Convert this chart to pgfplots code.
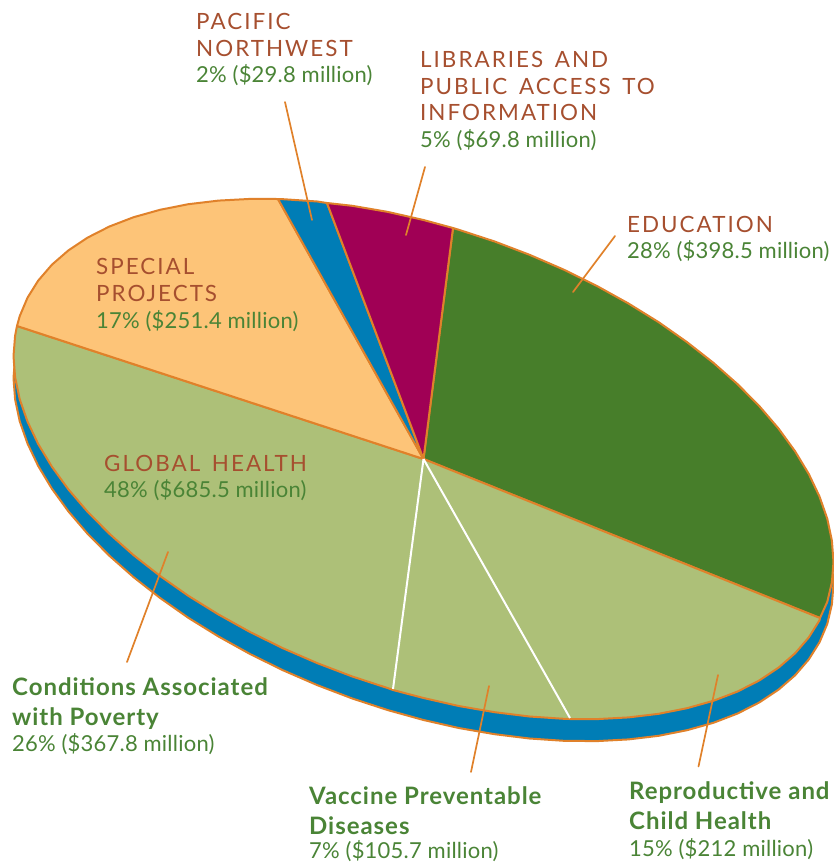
\documentclass[border=0pt]{standalone}
\usepackage{pgfplots}
\pgfplotsset{compat=1.18}
\usepackage{fontspec}
\setmainfont{Lato}
\newfontfamily\capsf[LetterSpace=9,WordSpace=1.5]{Lato}
\newfontfamily\numsf[LetterSpace=1]{Lato}
\newfontfamily\hdsf[LetterSpace=4,BoldFont={Lato Bold}]{Lato}
\definecolor{edge}{HTML}{E0812A}
\definecolor{pblue}{HTML}{007DB6}
\definecolor{pmag}{HTML}{A00055}
\definecolor{pdark}{HTML}{477E2A}
\definecolor{plight}{HTML}{ADC078}
\definecolor{ppeach}{HTML}{FDC478}
\definecolor{tbrown}{HTML}{A64F2F}
\definecolor{tgreen}{HTML}{4A8436}
\newcommand{\capt}[3]{\node[anchor=base west,inner sep=0pt,text=tbrown,font=\fontsize{22.4}{26}\selectfont\capsf] at (axis cs:#1,#2) {#3};}
\newcommand{\num}[3]{\node[anchor=base west,inner sep=0pt,text=tgreen,font=\fontsize{22}{26}\selectfont\numsf] at (axis cs:#1,#2) {#3};}
\newcommand{\hd}[3]{\node[anchor=base west,inner sep=0pt,text=tgreen,font=\fontsize{24}{28}\selectfont\hdsf\bfseries] at (axis cs:#1,#2) {#3};}
\begin{document}
\begin{tikzpicture}[x=1pt,y=1pt]
\useasboundingbox (0,0) rectangle (834,863);
\begin{axis}[at={(0,0)},anchor=south west,scale only axis,width=834pt,height=863pt,
  xmin=-423.5,xmax=410.5,ymin=-459,ymax=404,y dir=reverse,hide axis,clip=false,
  every axis plot/.append style={line join=round,line cap=round}]
% thickness of the disc
\addplot[draw=edge,fill=pblue,line width=2pt] coordinates {
(385.3,37)(396,59.5)(403.8,81.8)(408.4,103.7)(410,124.9)(408.4,145.3)(403.8,164.8)(396,183.3)(385.3,200.4)(371.6,216.3)(355.1,230.6)(335.9,243.4)(314.1,254.5)(289.9,263.8)(263.5,271.2)(235.2,276.8)(205,280.4)(173.3,282.1)(140.2,281.8)(106.1,279.5)(71.2,275.2)(35.7,269.1)(0,261)(-35.7,251.1)(-71.2,239.5)(-106.1,226.2)(-140.2,211.4)(-173.3,195.1)(-205,177.5)(-235.2,158.8)(-263.5,138.9)(-289.9,118.2)(-314.1,96.8)(-335.9,74.8)(-355.1,52.4)(-371.6,29.7)(-385.3,7)(-396,-15.5)(-403.8,-37.8)(-408.4,-59.7)(-410,-80.9)(-408.4,-101.3)
} -- cycle;
% Education
\addplot[draw=edge,fill=pdark,line width=2pt] coordinates {
(0,0)(29.5,-231)(35.7,-229.1)(71.2,-217.5)(106.1,-204.2)(140.2,-189.4)(173.3,-173.1)(205,-155.5)(235.2,-136.8)(263.5,-116.9)(289.9,-96.2)(314.1,-74.8)(335.9,-52.8)(355.1,-30.4)(371.6,-7.7)(385.3,15)(396,37.5)(403.8,59.8)(408.4,81.7)(410,102.9)(408.4,123.3)(403.8,142.8)(396.5,159)
} -- cycle;
% Global health
\addplot[draw=edge,fill=plight,line width=2pt] coordinates {
(0,0)(396.5,159)(396,161.3)(385.3,178.4)(371.6,194.3)(355.1,208.6)(335.9,221.4)(314.1,232.5)(289.9,241.8)(263.5,249.2)(235.2,254.8)(205,258.4)(173.3,260.1)(146.5,260)(140.2,259.8)(106.1,257.5)(71.2,253.2)(35.7,247.1)(0,239)(-30.5,231)(-35.7,229.1)(-71.2,217.5)(-106.1,204.2)(-140.2,189.4)(-173.3,173.1)(-205,155.5)(-235.2,136.8)(-263.5,116.9)(-289.9,96.2)(-314.1,74.8)(-335.9,52.8)(-355.1,30.4)(-371.6,7.7)(-385.3,-15)(-396,-37.5)(-403.8,-59.8)(-408.4,-81.7)(-410,-102.9)(-408.4,-123.3)(-406.5,-133)
} -- cycle;
% Special projects
\addplot[draw=edge,fill=ppeach,line width=2pt] coordinates {
(0,0)(-406.5,-133)(-403.8,-142.8)(-396,-161.3)(-385.3,-178.4)(-371.6,-194.3)(-355.1,-208.6)(-335.9,-221.4)(-314.1,-232.5)(-289.9,-241.8)(-263.5,-249.2)(-235.2,-254.8)(-205,-258.4)(-173.3,-260.1)(-145.5,-260)
} -- cycle;
% Pacific Northwest
\addplot[draw=edge,fill=pblue,line width=2pt] coordinates {
(0,0)(-145.5,-260)(-140.2,-259.8)(-106.1,-257.5)(-96.5,-256)
} -- cycle;
% Libraries
\addplot[draw=edge,fill=pmag,line width=2pt] coordinates {
(0,0)(-96.5,-256)(-71.2,-253.2)(-35.7,-247.1)(0,-239)(29.5,-231)
} -- cycle;
% white dividers
\addplot[draw=white,line width=2pt,line cap=butt] coordinates {(0,0)(146.5,259)};
\addplot[draw=white,line width=2pt,line cap=butt] coordinates {(0,0)(-30.5,230)};
% leaders
\addplot[draw=edge,line width=1.7pt] coordinates {(-138.5,-357)(-111.5,-239)};
\addplot[draw=edge,line width=1.7pt] coordinates {(1.5,-292)(-17.5,-224)};
\addplot[draw=edge,line width=1.7pt] coordinates {(191.5,-223)(149.5,-167)};
\addplot[draw=edge,line width=1.7pt] coordinates {(-255.5,93)(-296.5,203)};
\addplot[draw=edge,line width=1.7pt] coordinates {(65.5,227)(47.5,313)};
\addplot[draw=edge,line width=1.7pt] coordinates {(294.5,216)(275,307.5)};
% labels
\capt{-227.5}{-430}{PACIFIC}
\capt{-227.5}{-403}{NORTHWEST}
\num{-227.5}{-377}{2\% (\$29.8 million)}
\capt{-3.5}{-392}{LIBRARIES AND}
\capt{-3.5}{-365}{PUBLIC ACCESS TO}
\capt{-3.5}{-339}{INFORMATION}
\num{-3.5}{-312}{5\% (\$69.8 million)}
\capt{-327.5}{-185}{SPECIAL}
\capt{-327.5}{-158}{PROJECTS}
\num{-327.5}{-131}{17\% (\$251.4 million)}
\capt{203.5}{-227}{EDUCATION}
\num{203.5}{-201}{28\% (\$398.5 million)}
\capt{-319.5}{12}{GLOBAL HEALTH}
\num{-319.5}{38}{48\% (\$685.5 million)}
\hd{-411.5}{236}{Conditions Associated}
\hd{-411.5}{266}{with Poverty}
\num{-411.5}{292}{26\% (\$367.8 million)}
\hd{-114.5}{345}{Vaccine Preventable}
\hd{-114.5}{375}{Diseases}
\num{-114.5}{399}{7\% (\$105.7 million)}
\hd{205.5}{340}{Reproductive and}
\hd{205.5}{370}{Child Health}
\num{205.5}{397}{15\% (\$212 million)}
\end{axis}
\end{tikzpicture}
\end{document}
